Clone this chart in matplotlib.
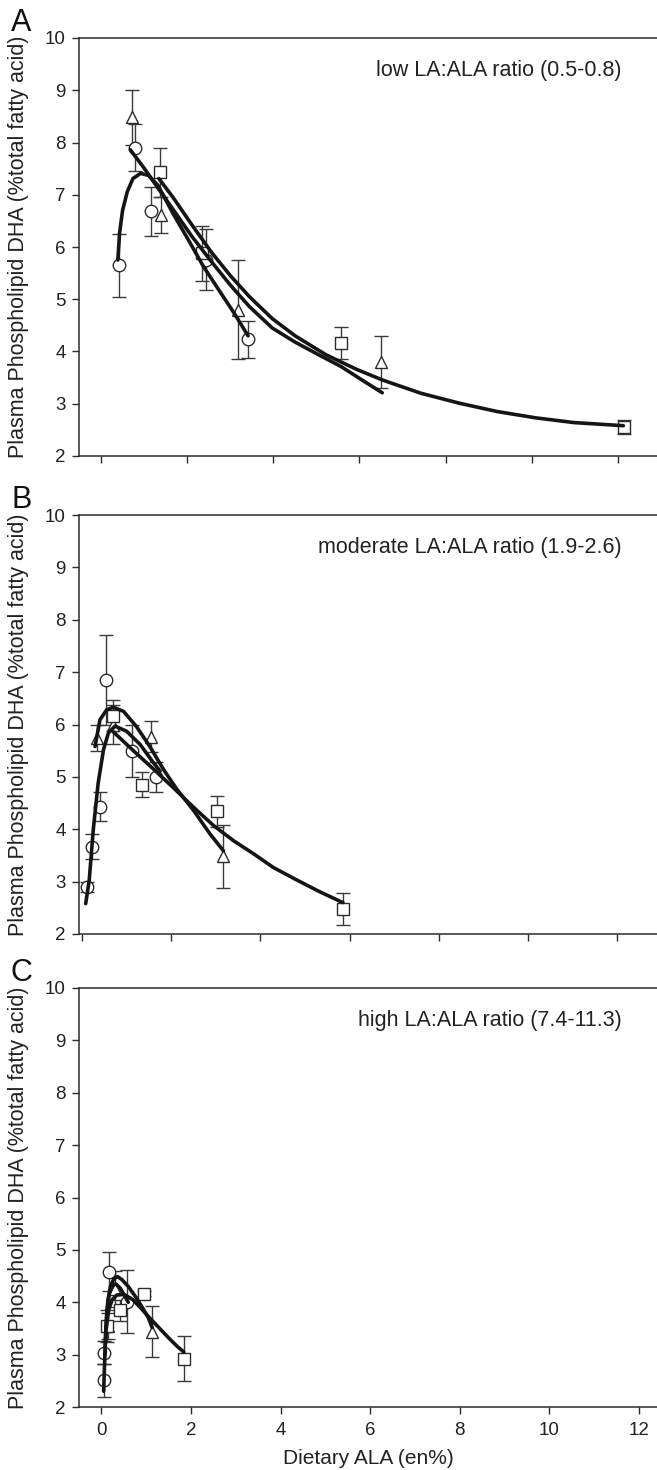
import matplotlib
matplotlib.use("Agg")
import matplotlib.pyplot as plt

plt.rcParams["font.family"] = ["Liberation Sans", "DejaVu Sans"]

# ---- panel A: low LA:ALA ratio ----
a_circ_x = [0.42, 0.80, 1.18, 2.45, 3.42]
a_circ_y = [5.65, 7.90, 6.68, 5.76, 4.23]
a_circ_err = [0.60, 0.45, 0.46, 0.58, 0.35]
a_tri_x = [0.73, 1.39, 3.18, 6.51]
a_tri_y = [8.48, 6.61, 4.80, 3.80]
a_tri_err = [0.53, 0.35, 0.95, 0.50]
a_sq_x = [1.37, 2.36, 5.58, 12.13]
a_sq_y = [7.43, 5.88, 4.16, 2.55]
a_sq_err = [0.47, 0.53, 0.31, 0.13]

# fitted curves
a_circ_fit_x = [0.40, 0.44, 0.51, 0.62, 0.75, 0.93, 1.11, 1.33, 1.68, 2.04, 2.39, 2.74, 3.10, 3.42]
a_circ_fit_y = [5.75, 6.26, 6.70, 7.06, 7.31, 7.41, 7.37, 7.18, 6.64, 6.13, 5.62, 5.18, 4.73, 4.30]
a_tri_fit_x = [0.69, 1.00, 1.33, 1.68, 2.12, 2.57, 3.01, 3.45, 3.98, 4.51, 5.05, 5.58, 6.05, 6.53]
a_tri_fit_y = [7.86, 7.52, 7.13, 6.72, 6.20, 5.72, 5.27, 4.86, 4.45, 4.18, 3.94, 3.71, 3.46, 3.21]
a_sq_fit_x = [1.35, 1.68, 2.12, 2.57, 3.01, 3.45, 3.98, 4.51, 5.22, 5.93, 6.55, 7.43, 8.32, 9.20, 10.09, 10.97, 12.12]
a_sq_fit_y = [7.31, 6.95, 6.42, 5.90, 5.45, 5.05, 4.63, 4.30, 3.94, 3.66, 3.45, 3.20, 3.01, 2.85, 2.73, 2.64, 2.58]

# ---- panel B: moderate LA:ALA ratio ----
b_circ_x = [0.10, 0.22, 0.40, 0.54, 1.13, 1.66]
b_circ_y = [2.90, 3.67, 4.43, 6.85, 5.49, 5.00]
b_circ_err = [0.10, 0.23, 0.28, 0.85, 0.50, 0.29]
b_tri_x = [0.34, 0.69, 1.54, 3.17]
b_tri_y = [5.74, 6.00, 5.77, 3.48]
b_tri_err = [0.25, 0.38, 0.30, 0.60]
b_sq_x = [0.70, 1.35, 3.02, 5.85]
b_sq_y = [6.17, 4.85, 4.34, 2.48]
b_sq_err = [0.30, 0.24, 0.30, 0.31]

b_circ_fit_x = [0.08, 0.16, 0.25, 0.36, 0.48, 0.59, 0.74, 1.00, 1.30, 1.60, 1.75]
b_circ_fit_y = [2.58, 3.03, 3.99, 4.88, 5.52, 5.84, 5.97, 5.87, 5.62, 5.27, 5.11]
b_tri_fit_x = [0.29, 0.40, 0.55, 0.70, 0.93, 1.22, 1.52, 1.82, 2.12, 2.50, 2.87, 3.17]
b_tri_fit_y = [5.58, 6.09, 6.28, 6.33, 6.25, 5.96, 5.58, 5.15, 4.77, 4.36, 3.91, 3.59]
b_sq_fit_x = [0.70, 1.15, 1.60, 2.05, 2.50, 2.95, 3.40, 3.85, 4.29, 4.82, 5.30, 5.85]
b_sq_fit_y = [5.86, 5.50, 5.15, 4.79, 4.42, 4.07, 3.78, 3.53, 3.27, 3.03, 2.82, 2.60]

# ---- panel C: high LA:ALA ratio ----
c_circ_x = [0.06, 0.06, 0.16, 0.58]
c_circ_y = [2.51, 3.04, 4.58, 4.01]
c_circ_err = [0.32, 0.22, 0.37, 0.60]
c_tri_x = [0.14, 0.30, 1.13]
c_tri_y = [3.55, 4.25, 3.44]
c_tri_err = [0.25, 0.35, 0.48]
c_sq_x = [0.13, 0.42, 0.95, 1.85]
c_sq_y = [3.55, 3.85, 4.16, 2.92]
c_sq_err = [0.30, 0.20, 0.05, 0.43]

c_circ_fit_x = [0.05, 0.07, 0.09, 0.12, 0.17, 0.24, 0.32, 0.42, 0.52, 0.60]
c_circ_fit_y = [2.30, 2.80, 3.30, 3.80, 4.15, 4.32, 4.35, 4.27, 4.12, 4.00]
c_tri_fit_x = [0.08, 0.10, 0.14, 0.20, 0.28, 0.36, 0.46, 0.60, 0.75, 0.90, 1.05, 1.13]
c_tri_fit_y = [3.00, 3.50, 4.00, 4.30, 4.45, 4.49, 4.43, 4.30, 4.12, 3.92, 3.70, 3.52]
c_sq_fit_x = [0.11, 0.16, 0.24, 0.35, 0.50, 0.70, 0.90, 1.10, 1.30, 1.50, 1.70, 1.84]
c_sq_fit_y = [3.50, 3.85, 4.05, 4.14, 4.15, 4.05, 3.87, 3.68, 3.50, 3.32, 3.15, 3.05]

panel_letters = ["A", "B", "C"]
panel_notes = ["low LA:ALA ratio (0.5-0.8)",
               "moderate LA:ALA ratio (1.9-2.6)",
               "high LA:ALA ratio (7.4-11.3)"]
y_label = "Plasma Phospholipid DHA (%total fatty acid)"
x_label = "Dietary ALA (en%)"

W, H = 657, 1470
INK = "#2b2b2b"


def draw_panel(ax, circ, tri, sq, fits, xlim):
    for (x, y, e), m, ms in ((circ, "o", 9), (tri, "^", 9), (sq, "s", 8)):
        ax.errorbar(x, y, yerr=e, fmt=m, ms=ms, mfc="white", mec=INK, mew=1.0,
                    ecolor="#3a3a3a", elinewidth=1.0, capsize=5, capthick=1.0,
                    zorder=3)
    for fx, fy in fits:
        ax.plot(fx, fy, color="#151515", lw=2.6, solid_capstyle="round",
                solid_joinstyle="round", zorder=4)
    ax.set_xlim(*xlim)
    ax.set_ylim(2, 10)
    ax.set_yticks(range(2, 11))
    ax.set_xticks(range(0, 13, 2))
    ax.spines["right"].set_visible(False)
    for s in ("left", "top", "bottom"):
        ax.spines[s].set_color(INK)
        ax.spines[s].set_linewidth(1.1)
    ax.tick_params(direction="out", length=5, width=1, color=INK,
                   labelsize=13.5, labelcolor="#222222")
    ax.tick_params(axis="y", pad=4.5)
    ax.tick_params(axis="x", pad=6)
    ax.set_ylabel(y_label, fontsize=15.5, color="#222222")
    ax.yaxis.set_label_coords(-0.087, 0.5)


def main():
    fig = plt.figure(figsize=(W / 100, H / 100), dpi=100)

    left = 79 / W
    width = 1 - left
    tops = [38, 515, 988]
    bottoms = [456, 934, 1407]
    xlims = [(-0.5, 12.9), (-0.07, 12.9), (-0.5, 12.4)]

    data = [
        ((a_circ_x, a_circ_y, a_circ_err), (a_tri_x, a_tri_y, a_tri_err),
         (a_sq_x, a_sq_y, a_sq_err),
         [(a_circ_fit_x, a_circ_fit_y), (a_tri_fit_x, a_tri_fit_y), (a_sq_fit_x, a_sq_fit_y)]),
        ((b_circ_x, b_circ_y, b_circ_err), (b_tri_x, b_tri_y, b_tri_err),
         (b_sq_x, b_sq_y, b_sq_err),
         [(b_circ_fit_x, b_circ_fit_y), (b_tri_fit_x, b_tri_fit_y), (b_sq_fit_x, b_sq_fit_y)]),
        ((c_circ_x, c_circ_y, c_circ_err), (c_tri_x, c_tri_y, c_tri_err),
         (c_sq_x, c_sq_y, c_sq_err),
         [(c_circ_fit_x, c_circ_fit_y), (c_tri_fit_x, c_tri_fit_y), (c_sq_fit_x, c_sq_fit_y)]),
    ]

    for i in range(3):
        b = 1 - bottoms[i] / H
        h = (bottoms[i] - tops[i]) / H
        ax = fig.add_axes([left, b, width, h])
        circ, tri, sq, fits = data[i]
        draw_panel(ax, circ, tri, sq, fits, xlims[i])
        ax.text(0.939, 0.922, panel_notes[i], transform=ax.transAxes,
                ha="right", va="center", fontsize=15.5, color="#222222")
        if i < 2:
            ax.tick_params(labelbottom=False)
        else:
            ax.set_xlabel(x_label, fontsize=15, color="#222222", labelpad=7)
        fig.text(11 / W, 1 - (tops[i] - 30) / H, panel_letters[i],
                 fontsize=22, color="#111111", va="top", ha="left")

    fig.savefig("out.png", dpi=100)


if __name__ == "__main__":
    main()
